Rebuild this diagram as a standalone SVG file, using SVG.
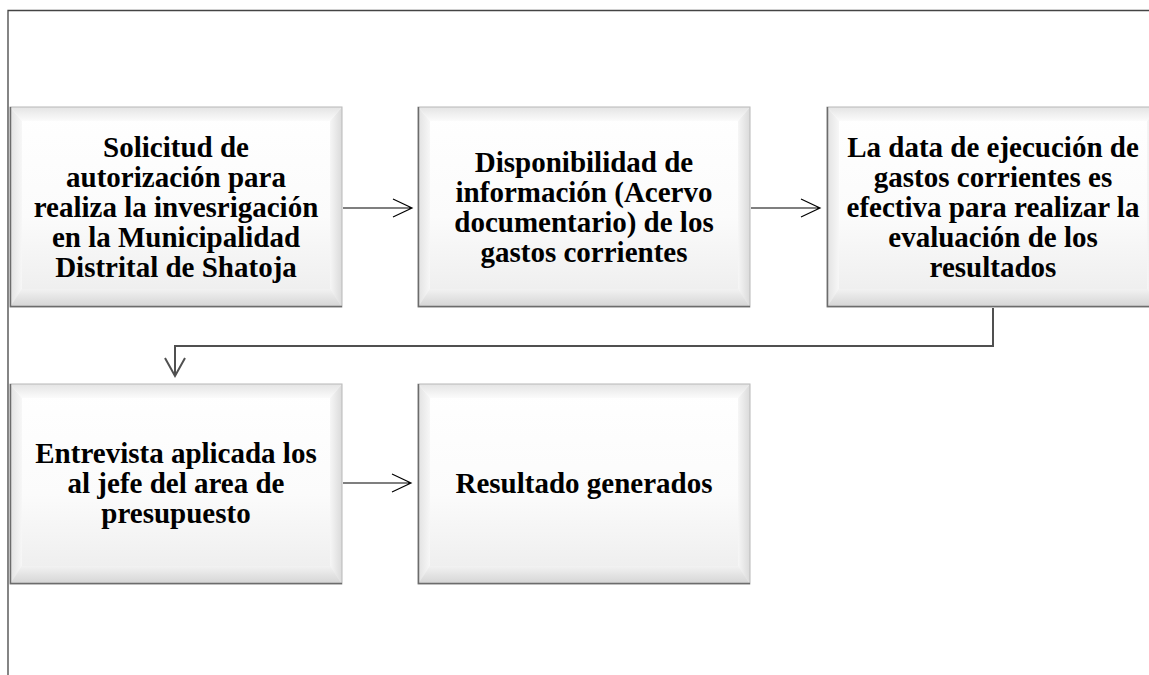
<svg xmlns="http://www.w3.org/2000/svg" xmlns:xlink="http://www.w3.org/1999/xlink" width="1149" height="675" viewBox="0 0 1149 675">
<style>
.lbl{font-family:"Liberation Serif","Times New Roman",serif;font-weight:bold;font-size:29px;fill:#000;text-anchor:middle}
.arrow{stroke:#000;stroke-width:1.2;fill:none}
.elbow{stroke:#505050;stroke-width:2;fill:none}
.frame{stroke:#444;stroke-width:1.3;fill:none}
</style>
<defs>
<linearGradient id="face" x1="0" y1="0" x2="0" y2="1">
<stop offset="0" stop-color="#ffffff"/>
<stop offset="0.55" stop-color="#fbfbfb"/>
<stop offset="1" stop-color="#ececec"/>
</linearGradient>
<linearGradient id="topB" x1="0" y1="0" x2="0" y2="1">
<stop offset="0" stop-color="#e4e4e4"/>
<stop offset="1" stop-color="#fbfbfb"/>
</linearGradient>
<linearGradient id="botB" x1="0" y1="0" x2="0" y2="1">
<stop offset="0" stop-color="#f2f2f2"/>
<stop offset="1" stop-color="#d4d4d4"/>
</linearGradient>
<linearGradient id="rightB" x1="0" y1="0" x2="1" y2="0">
<stop offset="0" stop-color="#f6f6f6"/>
<stop offset="1" stop-color="#dadada"/>
</linearGradient>
<linearGradient id="leftB" x1="0" y1="0" x2="1" y2="0">
<stop offset="0" stop-color="#e2e2e2"/>
<stop offset="1" stop-color="#f7f7f7"/>
</linearGradient>
<g id="bevel">
<rect x="0" y="0" width="332" height="200" fill="url(#face)"/>
<polygon points="0,0 332,0 320,14 12,14" fill="url(#topB)"/>
<polygon points="0,0 12,14 12,182 0,200" fill="url(#leftB)"/>
<polygon points="332,0 332,200 320,182 320,14" fill="url(#rightB)"/>
<polygon points="0,200 12,182 320,182 332,200" fill="url(#botB)"/>
<rect x="0" y="0" width="332" height="200" fill="none" stroke="#b8b8b8" stroke-width="1"/>
<path d="M0.5,0 V199.5 H332" fill="none" stroke="#6c6c6c" stroke-width="1.5"/>
</g>
</defs>

<g id="frame">
<path class="frame" d="M8,675 V10.5 H1149"/>
</g>

<g id="connectors">
<path class="arrow" d="M343,208 H412 M393,199 L412,208 L393,217"/>
<path class="arrow" d="M751,208 H820 M801,199 L820,208 L801,217"/>
<path class="arrow" d="M343,483 H411 M392,474 L411,483 L392,492"/>
<path class="elbow" d="M993,308 V346 H175 V376"/>
<path class="elbow" stroke-width="1.3" d="M165,358 L175,376 L185,358"/>
</g>

<g id="node1">
<use xlink:href="#bevel" x="10" y="107"/>
<text class="lbl" x="176" y="156.5">Solicitud de</text>
<text class="lbl" x="176" y="186.7">autorización para</text>
<text class="lbl" x="176" y="216.9">realiza la invesrigación</text>
<text class="lbl" x="176" y="247.1">en la Municipalidad</text>
<text class="lbl" x="176" y="277.3">Distrital de Shatoja</text>
</g>

<g id="node2">
<use xlink:href="#bevel" x="418" y="107"/>
<text class="lbl" x="584" y="171.6">Disponibilidad de</text>
<text class="lbl" x="584" y="201.8">información (Acervo</text>
<text class="lbl" x="584" y="232">documentario) de los</text>
<text class="lbl" x="584" y="262.2">gastos corrientes</text>
</g>

<g id="node3">
<use xlink:href="#bevel" x="827" y="107"/>
<text class="lbl" x="993" y="156.5">La data de ejecución de</text>
<text class="lbl" x="993" y="186.7">gastos corrientes es</text>
<text class="lbl" x="993" y="216.9">efectiva para realizar la</text>
<text class="lbl" x="993" y="247.1">evaluación de los</text>
<text class="lbl" x="993" y="277.3">resultados</text>
</g>

<g id="node4">
<use xlink:href="#bevel" x="10" y="384"/>
<text class="lbl" x="176" y="462.7">Entrevista aplicada los</text>
<text class="lbl" x="176" y="492.9">al jefe del area de</text>
<text class="lbl" x="176" y="523.1">presupuesto</text>
</g>

<g id="node5">
<use xlink:href="#bevel" x="418" y="384"/>
<text class="lbl" x="584" y="492.9">Resultado generados</text>
</g>
</svg>
